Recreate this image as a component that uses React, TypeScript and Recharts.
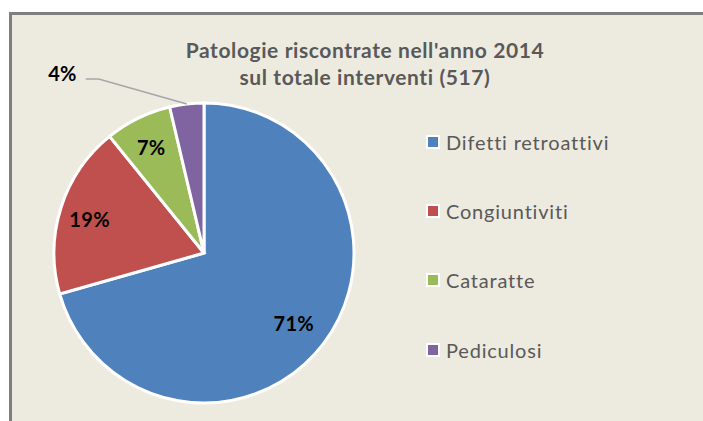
import { PieChart, Pie, Cell, Legend } from 'recharts';

const categories = ['Difetti retroattivi', 'Congiuntiviti', 'Cataratte', 'Pediculosi'];
const counts = [365, 96, 37, 19];
const colors = ['#4F81BD', '#C0504D', '#9BBB59', '#8064A2'];
const titleLines = ["Patologie riscontrate nell'anno 2014", 'sul totale interventi (517)'];

const data = categories.map((name, i) => ({ name, value: counts[i] }));

const RAD = Math.PI / 180;
const FONT = 'Lato, "Open Sans", sans-serif';

function renderLabel(props: any) {
  const { cx, cy, midAngle, outerRadius, percent, index } = props;
  const text = `${Math.round(percent * 100)}%`;
  const cos = Math.cos(-midAngle * RAD);
  const sin = Math.sin(-midAngle * RAD);
  if (percent < 0.05) {
    // small slice: label outside with a leader line
    const sx = cx + outerRadius * cos;
    const sy = cy + outerRadius * sin;
    const ex = sx - 88;
    const ey = sy - 25;
    return (
      <g key={`lbl-${index}`}>
        <polyline points={`${sx},${sy} ${ex},${ey} ${ex - 13},${ey}`} fill="none" stroke="#A6A6A6" strokeWidth={1.5} />
        <text x={ex - 22} y={ey - 6} textAnchor="end" dominantBaseline="central" fontFamily={FONT} fontWeight={700} fontSize={20} letterSpacing={0.3} fill="#000">
          {text}
        </text>
      </g>
    );
  }
  const r = outerRadius * (percent > 0.5 ? 0.75 : 0.8);
  return (
    <text key={`lbl-${index}`} x={cx + r * cos} y={cy + r * sin + 2} textAnchor="middle" dominantBaseline="central" fontFamily={FONT} fontWeight={700} fontSize={20} letterSpacing={0.3} fill="#000">
      {text}
    </text>
  );
}

function LegendContent({ payload }: any) {
  const items = [...(payload || [])].sort((a: any, b: any) => categories.indexOf(a.value) - categories.indexOf(b.value));
  return (
    <div style={{ fontFamily: FONT }}>
      {items.map((p: any, i: number) => (
        <div key={i} style={{ display: 'flex', alignItems: 'center', height: 69.3 }}>
          <span style={{ width: 10, height: 10, background: p.color, border: '2px solid #fff', marginRight: 6 }} />
          <span style={{ fontSize: 20, color: '#595959', letterSpacing: 0.8 }}>{p.value}</span>
        </div>
      ))}
    </div>
  );
}

export default function App() {
  return (
    <div style={{ position: 'absolute', left: 0, top: 0, width: 703, height: 421, overflow: 'hidden', background: '#fff' }}>
      <div style={{ position: 'absolute', left: 9, top: 12, width: 720, height: 440, background: '#EDEBE0', borderTop: '3px solid #7F7F7F', borderLeft: '3px solid #7F7F7F' }} />
      <div style={{ position: 'absolute', left: 115, top: 36, width: 500, textAlign: 'center', fontFamily: FONT, fontWeight: 700, fontSize: 21, letterSpacing: 0.6, color: '#595959', lineHeight: '27px' }}>
        {titleLines.map((t) => (
          <div key={t}>{t}</div>
        ))}
      </div>
      <div style={{ position: 'absolute', left: 0, top: 0 }}>
        <PieChart width={703} height={421}>
          <Pie
            data={data}
            dataKey="value"
            nameKey="name"
            cx={199}
            cy={248}
            outerRadius={150}
            startAngle={90}
            endAngle={-270}
            stroke="#fff"
            strokeWidth={3}
            label={renderLabel}
            labelLine={false}
            isAnimationActive={false}
          >
            {data.map((d, i) => (
              <Cell key={d.name} fill={colors[i]} />
            ))}
          </Pie>
          <Legend
            layout="vertical"
            content={<LegendContent />}
            wrapperStyle={{ position: 'absolute', left: 426, top: 107, width: 260 }}
          />
        </PieChart>
      </div>
    </div>
  );
}
